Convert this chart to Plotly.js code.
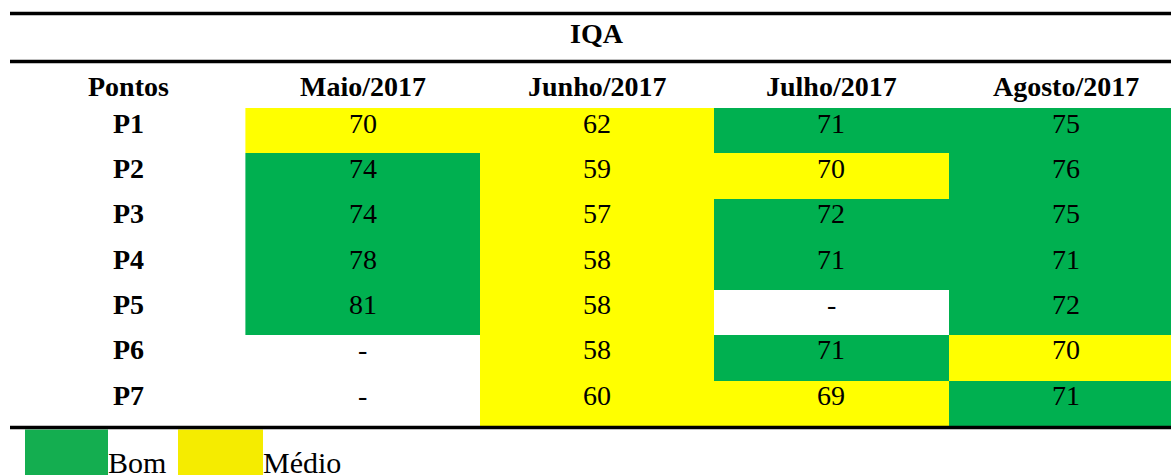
<!DOCTYPE html>
<html><head><meta charset="utf-8">
<script src="https://cdn.plot.ly/plotly-3.0.1.min.js"></script>
<style>html,body{margin:0;padding:0;background:#fff}#chart{width:1171px;height:475px}</style>
</head><body><div id="chart"></div>
<script>
// ---- data ----
const tableTitle = 'IQA';
const rowHeader = 'Pontos';
const months = ['Maio/2017', 'Junho/2017', 'Julho/2017', 'Agosto/2017'];
const points = ['P1', 'P2', 'P3', 'P4', 'P5', 'P6', 'P7'];
const maio   = [70, 74, 74, 78, 81, null, null];
const junho  = [62, 59, 57, 58, 58, 58, 60];
const julho  = [71, 70, 72, 71, null, 71, 69];
const agosto = [75, 76, 75, 71, 72, 70, 71];
const classes = ['Bom', 'Médio'];
const bomAbove = 70; // IQA > 70 -> Bom, otherwise Médio

// ---- styling / geometry ----
const W = 1171, H = 475;
const GREEN = '#00B050', YELLOW = '#FFFF00';
const LEG_GREEN = '#14AE50', LEG_YELLOW = '#F5EC00';
const FONT = 'Liberation Serif, Times New Roman, serif';
const colPx = 234.4, tableLeftPx = 11;
const rowPx = 45.36, firstRowTopPx = 108;

const series = [maio, junho, julho, agosto];
const colIdx = months.map((m, i) => i + 1);
const rowIdx = points.map((p, i) => i + 1);

const z = rowIdx.map((r, ri) => series.map(s => s[ri] == null ? null : (s[ri] > bomAbove ? 1 : 0)));

const heat = {
  type: 'heatmap', x: colIdx, y: rowIdx, z: z,
  zmin: 0, zmax: 1, showscale: false, hoverinfo: 'skip',
  colorscale: [[0, YELLOW], [0.5, YELLOW], [0.5, GREEN], [1, GREEN]],
  xgap: 0, ygap: 0
};

const xmin = -0.5 - tableLeftPx / colPx;
const xmax = xmin + W / colPx;
const ymin = 0.5 - firstRowTopPx / rowPx;
const ymax = ymin + H / rowPx;

const annotations = [];
const font = (sz) => ({family: FONT, size: sz, color: '#000'});
// title
annotations.push({x: 2, y: -1, xref: 'x', yref: 'y', text: '<b>' + tableTitle + '</b>', showarrow: false, font: font(28), yshift: 6});
// header row
annotations.push({x: 0, y: 0, xref: 'x', yref: 'y', text: '<b>' + rowHeader + '</b>', showarrow: false, font: font(28), yshift: -1});
months.forEach((m, i) => annotations.push({x: colIdx[i], y: 0, xref: 'x', yref: 'y', text: '<b>' + m + '</b>', showarrow: false, font: font(28), yshift: -1}));
// point labels and values
points.forEach((p, ri) => {
  annotations.push({x: 0, y: rowIdx[ri], xref: 'x', yref: 'y', text: '<b>' + p + '</b>', showarrow: false, font: font(28), yshift: 7.5});
  series.forEach((s, ci) => {
    const v = s[ri];
    annotations.push({x: colIdx[ci], y: rowIdx[ri], xref: 'x', yref: 'y', text: v == null ? '-' : String(v), showarrow: false, font: font(28), yshift: 7.5});
  });
});

// rules
const px2py = (py) => 1 - py / H;
const rulesPx = [13.5, 61.5, 427.5];
const shapes = rulesPx.map(py => ({type: 'line', xref: 'paper', yref: 'paper', x0: 10 / W, x1: 1, y0: px2py(py), y1: px2py(py), line: {color: '#000', width: 3.5}}));

// legend
const legItems = [
  {label: classes[0], color: LEG_GREEN, x0: 25, x1: 108},
  {label: classes[1], color: LEG_YELLOW, x0: 178, x1: 263}
];
legItems.forEach(it => {
  shapes.push({type: 'rect', xref: 'paper', yref: 'paper', x0: it.x0 / W, x1: it.x1 / W, y0: 0, y1: px2py(429.5), fillcolor: it.color, line: {width: 0}, layer: 'below'});
  annotations.push({x: it.x1 / W, y: 0, xref: 'paper', yref: 'paper', xanchor: 'left', yanchor: 'bottom', text: it.label, showarrow: false, font: font(30), yshift: -6, xshift: -2});
});

const layout = {
  width: W, height: H,
  margin: {l: 0, r: 0, t: 0, b: 0, pad: 0},
  paper_bgcolor: '#fff', plot_bgcolor: '#fff',
  xaxis: {range: [xmin, xmax], showgrid: false, zeroline: false, showticklabels: false, ticks: '', showline: false, fixedrange: true},
  yaxis: {range: [ymax, ymin], showgrid: false, zeroline: false, showticklabels: false, ticks: '', showline: false, fixedrange: true},
  shapes: shapes, annotations: annotations, showlegend: false
};
Plotly.newPlot('chart', [heat], layout, {displayModeBar: false, staticPlot: true});
</script>
</body></html>
